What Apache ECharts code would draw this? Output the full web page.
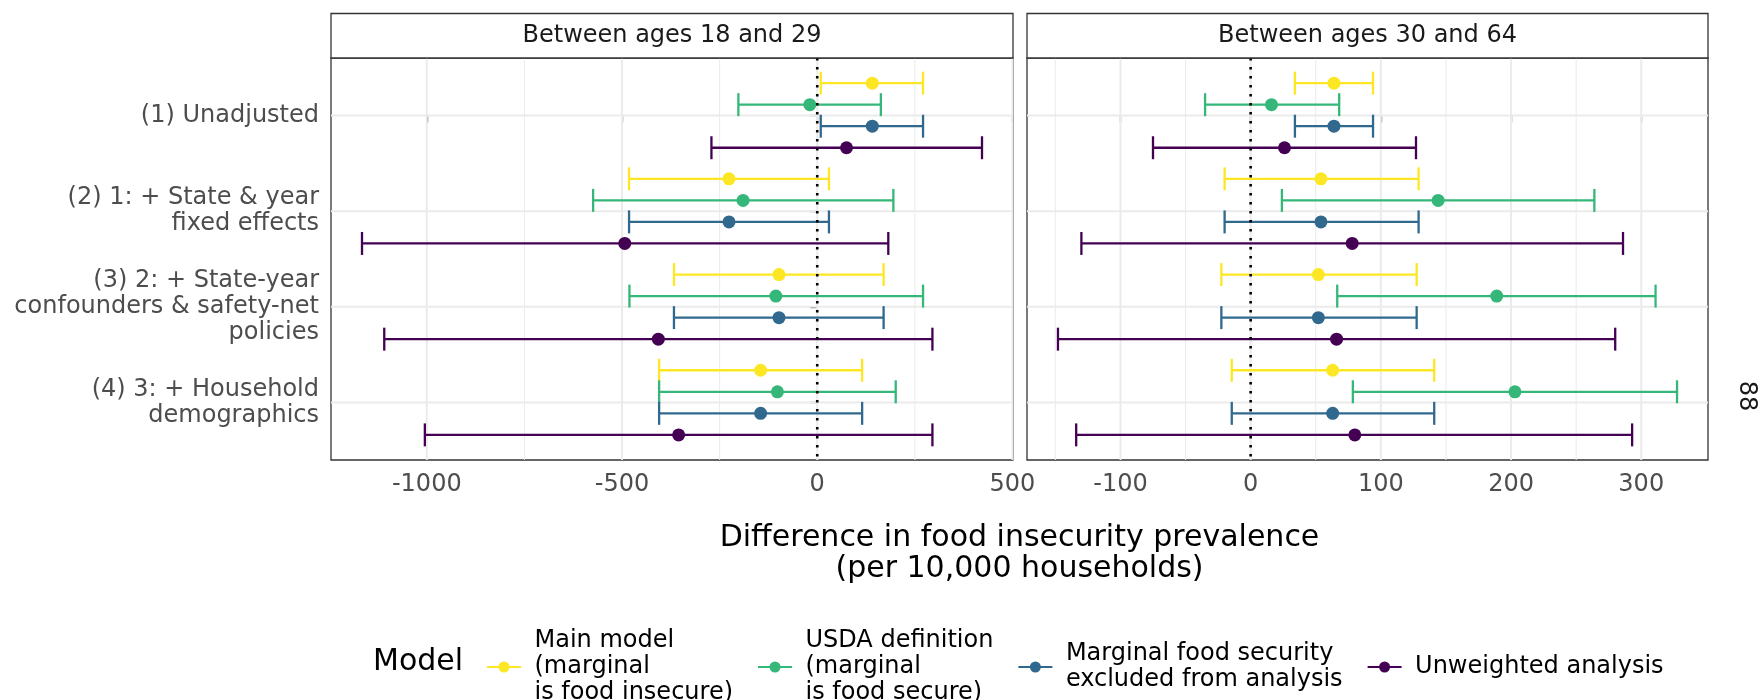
<!DOCTYPE html>
<html>
<head>
<meta charset="utf-8">
<script src="https://cdn.jsdelivr.net/npm/echarts@6/dist/echarts.min.js"></script>
<style>
  html, body { margin: 0; padding: 0; background: #ffffff; }
  #chart { width: 1758px; height: 700px; }
</style>
</head>
<body>
<div id="chart"></div>
<script>
// Facet panels (age groups)
const panels = ['Between ages 18 and 29', 'Between ages 30 and 64'];

// Model specifications, top to bottom
const categories = [
  '(1) Unadjusted',
  '(2) 1: + State & year\nfixed effects',
  '(3) 2: + State-year\nconfounders & safety-net\npolicies',
  '(4) 3: + Household\ndemographics'
];

// Analysis variants (legend entries), in dodge order
const models = [
  'Main model\n(marginal\nis food insecure)',
  'USDA definition\n(marginal\nis food secure)',
  'Marginal food security\nexcluded from analysis',
  'Unweighted analysis'
];
const modelColors = ['#FDE725', '#35B779', '#31688E', '#440154'];

// Ages 18-29: rows = models, columns = specifications (per 10,000 households)
const est18 = [
  [141, -226, -98, -145],
  [-19, -190, -106, -102],
  [141, -226, -98, -145],
  [75, -493, -407, -355]
];
const lo18 = [
  [9, -482, -367, -405],
  [-202, -574, -481, -405],
  [9, -482, -367, -405],
  [-271, -1166, -1109, -1005]
];
const hi18 = [
  [271, 30, 170, 115],
  [163, 195, 271, 201],
  [271, 30, 170, 115],
  [422, 182, 295, 295]
];

// Ages 30-64
const est30 = [
  [64, 54, 52, 63],
  [16, 144, 189, 203],
  [64, 54, 52, 63],
  [26, 78, 66, 80]
];
const lo30 = [
  [34, -20, -22.5, -14.5],
  [-35, 24, 66.5, 78.5],
  [34, -20, -22.5, -14.5],
  [-75, -130, -148, -134]
];
const hi30 = [
  [94, 129, 127.5, 141],
  [68, 264, 311, 327.5],
  [94, 129, 127.5, 141],
  [127, 286, 280, 293]
];

// Axis breaks
const xBreaks18 = [-1000, -500, 0, 500];
const xMinor18 = [-750, -250, 250];
const xBreaks30 = [-100, 0, 100, 200, 300];
const xMinor30 = [-150, -50, 50, 150, 250];

const sideLabel = '88';
const xTitle = 'Difference in food insecurity prevalence\n(per 10,000 households)';
const legendTitle = 'Model';

// ---- styling / layout ----
const FONT = 'DejaVu Sans';
const TEXT_SIZE = 24;
const TITLE_SIZE = 30;
const DODGE = 0.225;   // vertical spacing between dodged bars (category units)
const CAP = 0.12;      // half height of the error-bar caps (category units)
const GRID_COLOR = '#EBEBEB';
const BORDER = '#333333';

const panelData = [
  { est: est18, lo: lo18, hi: hi18, breaks: xBreaks18, minor: xMinor18 },
  { est: est30, lo: lo30, hi: hi30, breaks: xBreaks30, minor: xMinor30 }
];
const gridBoxes = [
  { left: 331, top: 58, width: 682, height: 402 },
  { left: 1027, top: 58, width: 681, height: 402 }
];
const STRIP_TOP = 13.5;

// ggplot-like 5% expansion of the data range
function expandRange(lo, hi) {
  const mn = Math.min(...lo.flat());
  const mx = Math.max(...hi.flat());
  const pad = (mx - mn) * 0.05;
  return [mn - pad, mx + pad];
}
const yMin = -0.6, yMax = categories.length - 1 + 0.6;
const catIdx = categories.map((_, i) => i);
const dodgeY = (m, i) => i + (m - (models.length - 1) / 2) * DODGE;

const grids = gridBoxes.map(b => ({
  left: b.left, top: b.top, width: b.width, height: b.height,
  show: true, backgroundColor: '#ffffff', borderColor: BORDER, borderWidth: 1.3
}));

const xAxes = panelData.map((pd, p) => {
  const [mn, mx] = expandRange(pd.lo, pd.hi);
  return {
    gridIndex: p, type: 'value', min: mn, max: mx,
    axisLine: { show: false },
    splitLine: { show: false },
    axisTick: { show: true, customValues: pd.breaks, length: 7, lineStyle: { color: BORDER, width: 1.3 } },
    axisLabel: {
      customValues: pd.breaks, formatter: v => String(v),
      color: '#4D4D4D', fontSize: TEXT_SIZE, fontFamily: FONT, margin: 13
    }
  };
});

const yAxes = panelData.map((pd, p) => ({
  gridIndex: p, type: 'value', inverse: true, min: yMin, max: yMax,
  axisLine: { show: false },
  splitLine: { show: false },
  axisTick: { show: p === 0, customValues: catIdx, length: 7, lineStyle: { color: BORDER, width: 1.3 } },
  axisLabel: {
    show: p === 0, customValues: catIdx,
    formatter: v => categories[Math.round(v)],
    color: '#4D4D4D', fontSize: TEXT_SIZE, fontFamily: FONT, lineHeight: 26, margin: 12, align: 'right'
  }
}));

const series = [];

panelData.forEach((pd, p) => {
  // background grid: kind 0 = major vertical, 1 = minor vertical, 2 = horizontal
  const gridLines = []
    .concat(pd.breaks.map(v => [v, 0, 0]))
    .concat(pd.minor.map(v => [v, 0, 1]))
    .concat(catIdx.map(i => [0, i, 2]));
  series.push({
    type: 'custom', xAxisIndex: p, yAxisIndex: p, z: 1, silent: true,
    dimensions: ['x', 'y', 'kind'], encode: { x: 0, y: 1 },
    data: gridLines,
    renderItem: (params, api) => {
      const cs = params.coordSys;
      const kind = api.value(2);
      if (kind === 2) {
        const y = api.coord([0, api.value(1)])[1];
        return { type: 'line', shape: { x1: cs.x, y1: y, x2: cs.x + cs.width, y2: y },
                 style: { stroke: GRID_COLOR, lineWidth: 2 } };
      }
      const x = api.coord([api.value(0), 0])[0];
      if (x < cs.x - 0.5 || x > cs.x + cs.width + 0.5) return null;
      return { type: 'line', shape: { x1: x, y1: cs.y, x2: x, y2: cs.y + cs.height },
               style: { stroke: GRID_COLOR, lineWidth: kind === 1 ? 1 : 2 } };
    }
  });

  models.forEach((name, m) => {
    // point estimates
    series.push({
      type: 'scatter', name, xAxisIndex: p, yAxisIndex: p, z: 4,
      symbol: 'circle', symbolSize: 13,
      itemStyle: { color: modelColors[m], opacity: 1 },
      data: pd.est[m].map((v, i) => [v, dodgeY(m, i)])
    });
  });

  models.forEach((name, m) => {
    // confidence intervals
    series.push({
      type: 'custom', name, xAxisIndex: p, yAxisIndex: p, z: 3,
      itemStyle: { color: modelColors[m] },
      dimensions: ['lo', 'hi', 'y'], encode: { x: [0, 1], y: 2 },
      data: catIdx.map(i => [pd.lo[m][i], pd.hi[m][i], dodgeY(m, i)]),
      renderItem: (params, api) => {
        const y = api.value(2);
        const a = api.coord([api.value(0), y]);
        const b = api.coord([api.value(1), y]);
        const t = api.coord([api.value(0), y - CAP])[1];
        const u = api.coord([api.value(0), y + CAP])[1];
        const st = { stroke: modelColors[m], lineWidth: 2.3, fill: null };
        return {
          type: 'group',
          children: [
            { type: 'line', shape: { x1: a[0], y1: a[1], x2: b[0], y2: b[1] }, style: st },
            { type: 'line', shape: { x1: a[0], y1: t, x2: a[0], y2: u }, style: st },
            { type: 'line', shape: { x1: b[0], y1: t, x2: b[0], y2: u }, style: st }
          ]
        };
      }
    });
  });

  // dotted reference line at zero
  series.push({
    type: 'custom', xAxisIndex: p, yAxisIndex: p, z: 5, silent: true,
    dimensions: ['x', 'y'], encode: { x: 0, y: 1 },
    data: [[0, 0]],
    renderItem: (params, api) => {
      const cs = params.coordSys;
      const x = api.coord([0, 0])[0];
      return { type: 'line', shape: { x1: x, y1: cs.y, x2: x, y2: cs.y + cs.height },
               style: { stroke: '#000000', lineWidth: 2.6, lineDash: [2.6, 6.4] } };
    }
  });
});

// legend key: short horizontal stroke with a dot (34 x 11 box)
const KEY_ICON = 'path://M0 4.5L34 4.5L34 6.5L0 6.5Z M22.5 5.5A5.5 5.5 0 1 1 11.5 5.5A5.5 5.5 0 1 1 22.5 5.5Z';

const graphics = [];
gridBoxes.forEach((b, p) => {
  graphics.push({
    type: 'rect', z: 10,
    shape: { x: b.left, y: STRIP_TOP, width: b.width, height: b.top - STRIP_TOP },
    style: { fill: '#ffffff', stroke: BORDER, lineWidth: 1.3 }
  });
  graphics.push({
    type: 'text', z: 11, x: b.left + b.width / 2, y: (STRIP_TOP + b.top) / 2,
    style: { text: panels[p], fontSize: TEXT_SIZE, fontFamily: FONT, fill: '#1A1A1A',
             align: 'center', verticalAlign: 'middle' }
  });
});
graphics.push({
  type: 'text', z: 11,
  x: (gridBoxes[0].left + gridBoxes[1].left + gridBoxes[1].width) / 2, y: 554,
  style: { text: xTitle, fontSize: TITLE_SIZE, fontFamily: FONT, fill: '#000000',
           lineHeight: 31, align: 'center', verticalAlign: 'middle' }
});
graphics.push({
  type: 'text', z: 11, x: 1746.5, y: 396, rotation: -Math.PI / 2,
  style: { text: sideLabel, fontSize: TEXT_SIZE, fontFamily: FONT, fill: '#1A1A1A',
           align: 'center', verticalAlign: 'middle' }
});
graphics.push({
  type: 'text', z: 11, x: 373, y: 662,
  style: { text: legendTitle, fontSize: TITLE_SIZE, fontFamily: FONT, fill: '#000000',
           align: 'left', verticalAlign: 'middle' }
});

const chart = echarts.init(document.getElementById('chart'), null, { renderer: 'canvas' });
chart.setOption({
  animation: false,
  backgroundColor: '#ffffff',
  textStyle: { fontFamily: FONT },
  grid: grids,
  xAxis: xAxes,
  yAxis: yAxes,
  legend: {
    left: 482, top: 623, orient: 'horizontal',
    selectedMode: false,
    itemWidth: 34, itemHeight: 11, itemGap: 25,
    data: models.map(n => ({ name: n, icon: KEY_ICON })),
    textStyle: { fontFamily: FONT, fontSize: TEXT_SIZE, lineHeight: 26, color: '#000000',
                 padding: [0, 0, 0, 8.5] }
  },
  graphic: graphics,
  series
});
</script>
</body>
</html>
